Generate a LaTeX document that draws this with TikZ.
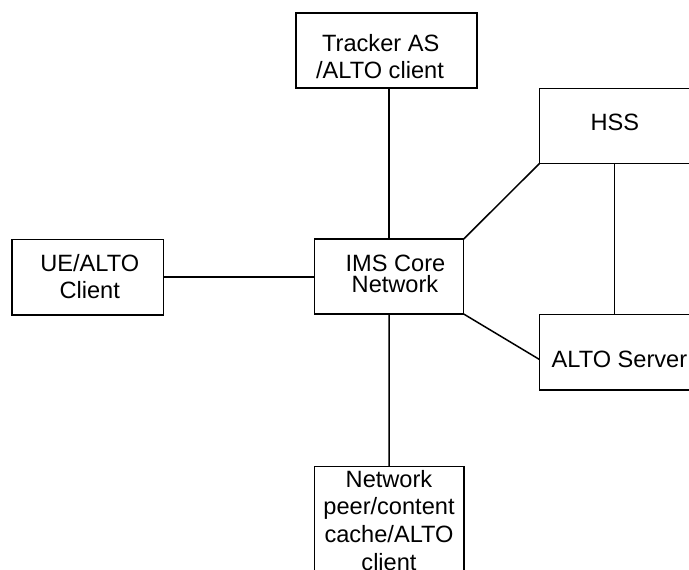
\documentclass[tikz,border=0pt]{standalone}
\usepackage{fontspec}
\setmainfont{Liberation Sans}
\usetikzlibrary{calc}

\tikzset{
  block/.style={draw=black, line width=1.5pt, fill=white, rectangle,
                inner sep=0pt, outer sep=0pt},
  wire/.style={draw=black, line width=1.5pt},
  label/.style={inner sep=0pt, outer sep=0pt, anchor=base,
                font=\fontsize{23.6}{26.7}\selectfont}
}

\begin{document}
\begin{tikzpicture}[x=1pt, y=-1pt]
  \useasboundingbox (0,0) rectangle (689,570);
  \clip (0,0) rectangle (689,570);
  \fill[white] (0,0) rectangle (689,570);

  % boxes
  \node[block, minimum width=181pt, minimum height=75pt] (tracker) at (386.5,50.5) {};
  \node[block, minimum width=200pt, minimum height=75.4pt] (hss) at (639.3,126) {};
  \node[block, minimum width=151.7pt, minimum height=75.7pt] (ue) at (87.8,277.2) {};
  \node[block, minimum width=149.4pt, minimum height=75pt] (ims) at (389,276.5) {};
  \node[block, minimum width=200pt, minimum height=75.7pt] (alto) at (639.3,352.2) {};
  \node[block, minimum width=149.7pt, minimum height=150pt] (net) at (389.2,541.7) {};

  % links
  \draw[wire] (ims.north) -- (ims.north |- tracker.south);
  \draw[wire] (ue.east) -- (ue.east -| ims.west);
  \draw[wire] (ims.north east) -- (hss.south west);
  \coordinate (altoIn) at ($(alto.north west)!0.595!(alto.south west)$);
  \draw[wire] (ims.south east) -- (altoIn);
  \draw[wire] ([xshift=75pt]hss.south west) -- ([xshift=75pt]alto.north west);
  \draw[wire] (ims.south) -- (net.north);

  % texts
  \node[label] (t1) at (380.7,51.7) {Tracker AS};
  \node[label] (t2) at (380,78.3) {/ALTO client};
  \node[label] (h1) at (614.8,130) {HSS};
  \node[label] (u1) at (89.7,271.7) {UE/ALTO};
  \node[label] (u2) at (89.7,298.3) {Client};
  \node[label] (i1) at (395.5,271) {IMS Core};
  \node[label] (i2) at (395,292.3) {Network};
  \node[label, anchor=base west] (a1) at (551.7,367.7) {ALTO Server};
  \node[label] (n1) at (389,487.3) {Network};
  \node[label] (n2) at (389,514.3) {peer/content};
  \node[label] (n3) at (389,542.7) {cache/ALTO};
  \node[label] (n4) at (389,570.4) {client};
\end{tikzpicture}
\end{document}
